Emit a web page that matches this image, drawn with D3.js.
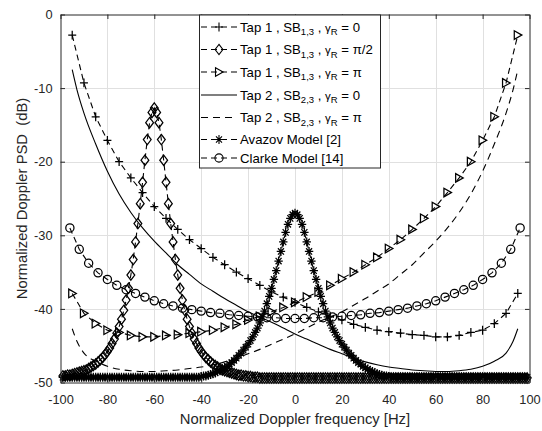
<!DOCTYPE html>
<html>
<head>
<meta charset="utf-8">
<script src="https://cdn.jsdelivr.net/npm/d3@7"></script>
<style>
  body { margin: 0; background: #fff; }
  svg text { font-family: "Liberation Sans", Arial, Helvetica, sans-serif; }
</style>
</head>
<body>
<svg id="chart" width="542" height="431"></svg>
<script>
// axis ticks
const xTicks = [-100, -80, -60, -40, -20, 0, 20, 40, 60, 80, 100]
const yTicks = [-50, -40, -30, -20, -10, 0]

// Tap 1 curves, markers every 5 Hz
const freq5 = [-95, -90, -85, -80, -75, -70, -65, -60, -55, -50, -45, -40, -35, -30, -25, -20, -15, -10, -5,
  0, 5, 10, 15, 20, 25, 30, 35, 40, 45, 50, 55, 60, 65, 70, 75, 80, 85, 90, 95]
const tap1Gamma0 = [-2.8, -9.3, -13.9, -17.1, -20.0, -22.2, -24.2, -26.1, -27.7, -29.2, -30.6, -31.8, -33.0, -34.0, -35.0, -35.9, -36.8, -37.7, -38.4,
  -39.1, -39.8, -40.4, -41.0, -41.5, -42.1, -42.5, -42.9, -43.1, -43.3, -43.5, -43.6, -43.8, -43.8, -43.6, -43.2, -42.9, -42.0, -40.6, -37.9]
const tap1GammaPi = [-37.9, -40.6, -42.0, -42.9, -43.2, -43.6, -43.8, -43.8, -43.6, -43.5, -43.3, -43.1, -42.9, -42.5, -42.1, -41.5, -41.0, -40.4, -39.8,
  -39.1, -38.4, -37.7, -36.8, -35.9, -35.0, -34.0, -33.0, -31.8, -30.6, -29.2, -27.7, -26.1, -24.2, -22.2, -20.0, -17.1, -13.9, -9.3, -2.8]

// Tap 2 curves (no markers)
const freqTap2 = [-95, -93, -90, -85, -80, -75, -70, -65, -60, -55, -50, -45, -40, -35, -30, -25, -20, -15, -10, -5,
  0, 5, 10, 15, 20, 25, 30, 35, 40, 45, 50, 55, 60, 65, 70, 75, 80, 85, 90, 93, 95]
const tap2Gamma0 = [-7.5, -10.2, -13.4, -17.6, -21.3, -24.4, -26.9, -29.0, -30.8, -32.4, -34.0, -35.3, -36.6, -37.6, -38.6, -39.5, -40.4, -41.1, -41.8, -42.6,
  -43.4, -44.1, -44.8, -45.5, -46.1, -46.7, -47.2, -47.6, -47.9, -48.1, -48.3, -48.4, -48.5, -48.5, -48.4, -48.2, -47.8, -47.1, -46.0, -44.4, -42.7]
const tap2GammaPi = [-42.7, -44.4, -46.0, -47.1, -47.8, -48.2, -48.4, -48.5, -48.5, -48.4, -48.3, -48.1, -47.9, -47.6, -47.2, -46.7, -46.1, -45.5, -44.8, -44.1,
  -43.4, -42.6, -41.8, -41.1, -40.4, -39.5, -38.6, -37.6, -36.6, -35.3, -34.0, -32.4, -30.8, -29.0, -26.9, -24.4, -21.3, -17.6, -13.4, -10.2, -7.5]

// Clarke model, markers every 4 Hz
const freqClarke = [-96, -92, -88, -84, -80, -76, -72, -68, -64, -60, -56, -52, -48, -44, -40, -36, -32, -28, -24, -20, -16, -12, -8, -4,
  0, 4, 8, 12, 16, 20, 24, 28, 32, 36, 40, 44, 48, 52, 56, 60, 64, 68, 72, 76, 80, 84, 88, 92, 96]
const clarke = [-29.0, -31.9, -33.8, -35.1, -36.0, -36.8, -37.4, -37.9, -38.4, -38.9, -39.3, -39.6, -39.9, -40.1, -40.3, -40.5, -40.6, -40.8, -40.9, -41.0, -41.1, -41.2, -41.2, -41.3,
  -41.3, -41.3, -41.2, -41.2, -41.1, -41.0, -40.9, -40.8, -40.6, -40.5, -40.3, -40.1, -39.9, -39.6, -39.3, -38.9, -38.4, -37.9, -37.4, -36.8, -36.0, -35.1, -33.8, -31.9, -29.0]

// dense curves, markers every 1 Hz
const freqDense = [
  -99, -98, -97, -96, -95, -94, -93, -92, -91, -90, -89, -88, -87, -86, -85, -84, -83, -82, -81, -80,
  -79, -78, -77, -76, -75, -74, -73, -72, -71, -70, -69, -68, -67, -66, -65, -64, -63, -62, -61, -60,
  -59, -58, -57, -56, -55, -54, -53, -52, -51, -50, -49, -48, -47, -46, -45, -44, -43, -42, -41, -40,
  -39, -38, -37, -36, -35, -34, -33, -32, -31, -30, -29, -28, -27, -26, -25, -24, -23, -22, -21, -20,
  -19, -18, -17, -16, -15, -14, -13, -12, -11, -10, -9, -8, -7, -6, -5, -4, -3, -2, -1, 0,
  1, 2, 3, 4, 5, 6, 7, 8, 9, 10, 11, 12, 13, 14, 15, 16, 17, 18, 19, 20,
  21, 22, 23, 24, 25, 26, 27, 28, 29, 30, 31, 32, 33, 34, 35, 36, 37, 38, 39, 40,
  41, 42, 43, 44, 45, 46, 47, 48, 49, 50, 51, 52, 53, 54, 55, 56, 57, 58, 59, 60,
  61, 62, 63, 64, 65, 66, 67, 68, 69, 70, 71, 72, 73, 74, 75, 76, 77, 78, 79, 80,
  81, 82, 83, 84, 85, 86, 87, 88, 89, 90, 91, 92, 93, 94, 95, 96, 97, 98, 99]
const tap1GammaHalfPi = [
  -49.1, -49.1, -49.0, -49.0, -48.9, -48.8, -48.7, -48.6, -48.5, -48.4,
  -48.3, -48.1, -47.9, -47.7, -47.5, -47.2, -46.9, -46.6, -46.2, -45.8,
  -45.3, -44.7, -44.1, -43.3, -42.4, -41.4, -40.2, -38.8, -37.2, -35.4,
  -33.3, -30.9, -28.4, -25.7, -22.8, -19.8, -17.0, -14.7, -13.3, -12.7,
  -13.3, -14.7, -17.0, -19.8, -22.8, -25.7, -28.4, -30.9, -33.3, -35.4,
  -37.2, -38.8, -40.2, -41.4, -42.4, -43.3, -44.1, -44.7, -45.3, -45.8,
  -46.2, -46.6, -46.9, -47.2, -47.5, -47.7, -47.9, -48.1, -48.3, -48.4,
  -48.5, -48.6, -48.7, -48.8, -48.9, -49.0, -49.0, -49.1, -49.1, -49.2,
  -49.2, -49.3, -49.3, -49.3, -49.4, -49.4, -49.4, -49.4, -49.4, -49.4,
  -49.4, -49.4, -49.4, -49.4, -49.4, -49.4, -49.4, -49.4, -49.4, -49.4,
  -49.4, -49.4, -49.4, -49.4, -49.4, -49.4, -49.4, -49.4, -49.4, -49.4,
  -49.4, -49.4, -49.4, -49.4, -49.4, -49.4, -49.4, -49.4, -49.4, -49.4,
  -49.4, -49.4, -49.4, -49.4, -49.4, -49.4, -49.4, -49.4, -49.4, -49.4,
  -49.4, -49.4, -49.4, -49.4, -49.4, -49.4, -49.4, -49.4, -49.4, -49.4,
  -49.4, -49.4, -49.4, -49.4, -49.4, -49.4, -49.4, -49.4, -49.4, -49.4,
  -49.4, -49.4, -49.4, -49.4, -49.4, -49.4, -49.4, -49.4, -49.4, -49.4,
  -49.4, -49.4, -49.4, -49.4, -49.4, -49.4, -49.4, -49.4, -49.4, -49.4,
  -49.4, -49.4, -49.4, -49.4, -49.4, -49.4, -49.4, -49.4, -49.4, -49.4,
  -49.4, -49.4, -49.4, -49.4, -49.4, -49.4, -49.4, -49.4, -49.4, -49.4,
  -49.4, -49.4, -49.4, -49.4, -49.4, -49.4, -49.4, -49.4, -49.4]
const avazov = [
  -49.3, -49.3, -49.3, -49.3, -49.3, -49.3, -49.3, -49.3, -49.3, -49.3,
  -49.3, -49.3, -49.3, -49.3, -49.3, -49.3, -49.3, -49.3, -49.3, -49.3,
  -49.3, -49.3, -49.3, -49.3, -49.3, -49.3, -49.3, -49.3, -49.3, -49.3,
  -49.3, -49.3, -49.3, -49.3, -49.3, -49.3, -49.3, -49.3, -49.3, -49.3,
  -49.3, -49.3, -49.3, -49.3, -49.3, -49.3, -49.3, -49.3, -49.3, -49.3,
  -49.3, -49.3, -49.3, -49.3, -49.3, -49.3, -49.3, -49.3, -49.3, -49.2,
  -49.1, -49.1, -49.0, -48.9, -48.8, -48.7, -48.5, -48.4, -48.2, -48.0,
  -47.8, -47.5, -47.3, -47.0, -46.7, -46.3, -46.0, -45.6, -45.2, -44.8,
  -44.3, -43.8, -43.2, -42.6, -41.9, -41.1, -40.3, -39.3, -38.3, -37.2,
  -36.0, -34.8, -33.5, -32.2, -30.9, -29.6, -28.5, -27.7, -27.2, -27.0,
  -27.2, -27.7, -28.5, -29.6, -30.9, -32.2, -33.5, -34.8, -36.0, -37.2,
  -38.3, -39.3, -40.3, -41.1, -41.9, -42.6, -43.2, -43.8, -44.3, -44.8,
  -45.2, -45.6, -46.0, -46.3, -46.7, -47.0, -47.3, -47.5, -47.8, -48.0,
  -48.2, -48.4, -48.5, -48.7, -48.8, -48.9, -49.0, -49.1, -49.1, -49.2,
  -49.3, -49.3, -49.3, -49.3, -49.3, -49.3, -49.3, -49.3, -49.3, -49.3,
  -49.3, -49.3, -49.3, -49.3, -49.3, -49.3, -49.3, -49.3, -49.3, -49.3,
  -49.3, -49.3, -49.3, -49.3, -49.3, -49.3, -49.3, -49.3, -49.3, -49.3,
  -49.3, -49.3, -49.3, -49.3, -49.3, -49.3, -49.3, -49.3, -49.3, -49.3,
  -49.3, -49.3, -49.3, -49.3, -49.3, -49.3, -49.3, -49.3, -49.3, -49.3,
  -49.3, -49.3, -49.3, -49.3, -49.3, -49.3, -49.3, -49.3, -49.3]

// legend labels
const legendTap = ['Tap 1', 'Tap 1', 'Tap 1', 'Tap 2', 'Tap 2']
const legendSb = ['1,3', '1,3', '1,3', '2,3', '2,3']
const legendGamma = ['0', 'π/2', 'π', '0', 'π']
const legendModels = ['Avazov Model [2]', 'Clarke Model [14]']

const ink = '#262626'
const dashed = '6,4'

const markers = {
  plus: 'M-4,0H4M0,-4.4V4.4',
  diamond: 'M0,-5.2L3.9,0L0,5.2L-3.9,0Z',
  triangle: 'M-3.5,-4.3L4.1,0L-3.5,4.3Z',
  star: 'M-4.2,0H4.2M0,-4.5V4.5M-3,-3.2L3,3.2M-3,3.2L3,-3.2',
  circle: 'M4.1,0A4.1,4.1 0 1,1 -4.1,0A4.1,4.1 0 1,1 4.1,0Z',
  none: null
}

const series = [
  {freq: freq5, db: tap1Gamma0, dash: dashed, marker: 'plus'},
  {freq: freqDense, db: tap1GammaHalfPi, dash: dashed, marker: 'diamond'},
  {freq: freq5, db: tap1GammaPi, dash: dashed, marker: 'triangle'},
  {freq: freqTap2, db: tap2Gamma0, dash: null, marker: 'none'},
  {freq: freqTap2, db: tap2GammaPi, dash: '7,5', marker: 'none'},
  {freq: freqDense, db: avazov, dash: dashed, marker: 'star'},
  {freq: freqClarke, db: clarke, dash: dashed, marker: 'circle'}
]

const svg = d3.select('#chart')
svg.append('rect').attr('width', 542).attr('height', 431).attr('fill', '#fff')

const x = d3.scaleLinear().domain([-100, 100]).range([60.5, 529.5])
const y = d3.scaleLinear().domain([-50, 0]).range([382.5, 14.5])

// grid
const grid = svg.append('g').attr('stroke', '#e0e0e0').attr('stroke-width', 1)
grid.selectAll('.gx')
  .data(xTicks.slice(1, -1))
  .join('line')
  .attr('x1', d => Math.round(x(d)) + 0.5).attr('x2', d => Math.round(x(d)) + 0.5)
  .attr('y1', y(0)).attr('y2', y(-50))
grid.selectAll('.gy')
  .data(yTicks.slice(1, -1))
  .join('line')
  .attr('x1', x(-100)).attr('x2', x(100))
  .attr('y1', d => Math.round(y(d)) + 0.5).attr('y2', d => Math.round(y(d)) + 0.5)

// curves
const line = d3.line()
  .x(d => x(d[0]))
  .y(d => y(d[1]))

const plot = svg.append('g')
series.forEach(s => {
  const pts = s.freq.map((f, i) => [f, s.db[i]])
  plot.append('path')
    .datum(pts)
    .attr('d', s.marker === 'none' ? line.curve(d3.curveMonotoneX) : line.curve(d3.curveLinear))
    .attr('fill', 'none')
    .attr('stroke', '#000')
    .attr('stroke-width', 1.1)
    .attr('stroke-dasharray', s.dash)
  if(markers[s.marker]) {
    plot.append('g')
      .selectAll('path')
      .data(pts)
      .join('path')
      .attr('d', markers[s.marker])
      .attr('transform', d => `translate(${x(d[0])},${y(d[1])})`)
      .attr('fill', 'none')
      .attr('stroke', '#000')
      .attr('stroke-width', 1.25)
  }
})

// axes: labelled bottom/left, tick-only top/right
const fmt = d => String(d)
const styleAxis = g => {
  g.attr('font-family', null).attr('font-size', null)
  g.select('.domain').attr('stroke', ink)
  g.selectAll('.tick line').attr('stroke', ink)
  g.selectAll('.tick text').attr('fill', ink).style('font-size', '12.8px')
}
svg.append('g')
  .attr('transform', `translate(0,${y(-50)})`)
  .call(d3.axisBottom(x).tickValues(xTicks).tickFormat(fmt).tickSize(-4.5).tickSizeOuter(0).tickPadding(12))
  .call(styleAxis)
svg.append('g')
  .attr('transform', `translate(${x(-100)},0)`)
  .call(d3.axisLeft(y).tickValues(yTicks).tickFormat(fmt).tickSize(-4.5).tickSizeOuter(0).tickPadding(8))
  .call(styleAxis)
svg.append('g')
  .attr('transform', `translate(0,${y(0)})`)
  .call(d3.axisTop(x).tickValues(xTicks).tickFormat('').tickSize(-4.5).tickSizeOuter(0))
  .call(styleAxis)
svg.append('g')
  .attr('transform', `translate(${x(100)},0)`)
  .call(d3.axisRight(y).tickValues(yTicks).tickFormat('').tickSize(-4.5).tickSizeOuter(0))
  .call(styleAxis)

// axis titles
svg.append('text')
  .attr('x', (x(-100) + x(100)) / 2)
  .attr('y', 424)
  .attr('text-anchor', 'middle')
  .attr('fill', ink)
  .style('font-size', '14.8px')
  .text('Normalized Doppler frequency [Hz]')
svg.append('text')
  .attr('transform', `translate(27,${(y(0) + y(-50)) / 2}) rotate(-90)`)
  .attr('text-anchor', 'middle')
  .attr('fill', ink)
  .style('font-size', '14.8px')
  .style('white-space', 'pre')
  .text('Normalized Doppler PSD  (dB)')

// legend
const legend = svg.append('g')
legend.append('rect')
  .attr('x', 199.5).attr('y', 15)
  .attr('width', 181).attr('height', 153)
  .attr('fill', '#fff')
  .attr('stroke', ink)
  .attr('stroke-width', 1)

const rowY = [27, 49.5, 72, 95, 117.5, 139.5, 158]
series.forEach((s, i) => {
  const ry = rowY[i]
  legend.append('line')
    .attr('x1', 201).attr('x2', 237)
    .attr('y1', ry).attr('y2', ry)
    .attr('stroke', '#000')
    .attr('stroke-width', 1.1)
    .attr('stroke-dasharray', s.dash)
  if(markers[s.marker]) {
    legend.append('path')
      .attr('d', markers[s.marker])
      .attr('transform', `translate(219,${ry})`)
      .attr('fill', 'none')
      .attr('stroke', '#000')
      .attr('stroke-width', 1.1)
  }
  const t = legend.append('text')
    .attr('x', 240)
    .attr('y', ry + 4.6)
    .attr('fill', '#000')
    .style('font-size', '13.2px')
    .style('white-space', 'pre')
  if(i < 5) {
    t.append('tspan').text(`${legendTap[i]} , SB`)
    t.append('tspan').attr('dy', 3.8).style('font-size', '9.5px').text(legendSb[i])
    t.append('tspan').attr('dy', -3.8).text(' , ')
    t.append('tspan').style('font-size', '11.5px').text('γ')
    t.append('tspan').attr('dy', 3.8).style('font-size', '9.5px').text('R')
    t.append('tspan').attr('dy', -3.8).text(` = ${legendGamma[i]}`)
  } else {
    t.text(legendModels[i - 5])
  }
})
</script>
</body>
</html>
